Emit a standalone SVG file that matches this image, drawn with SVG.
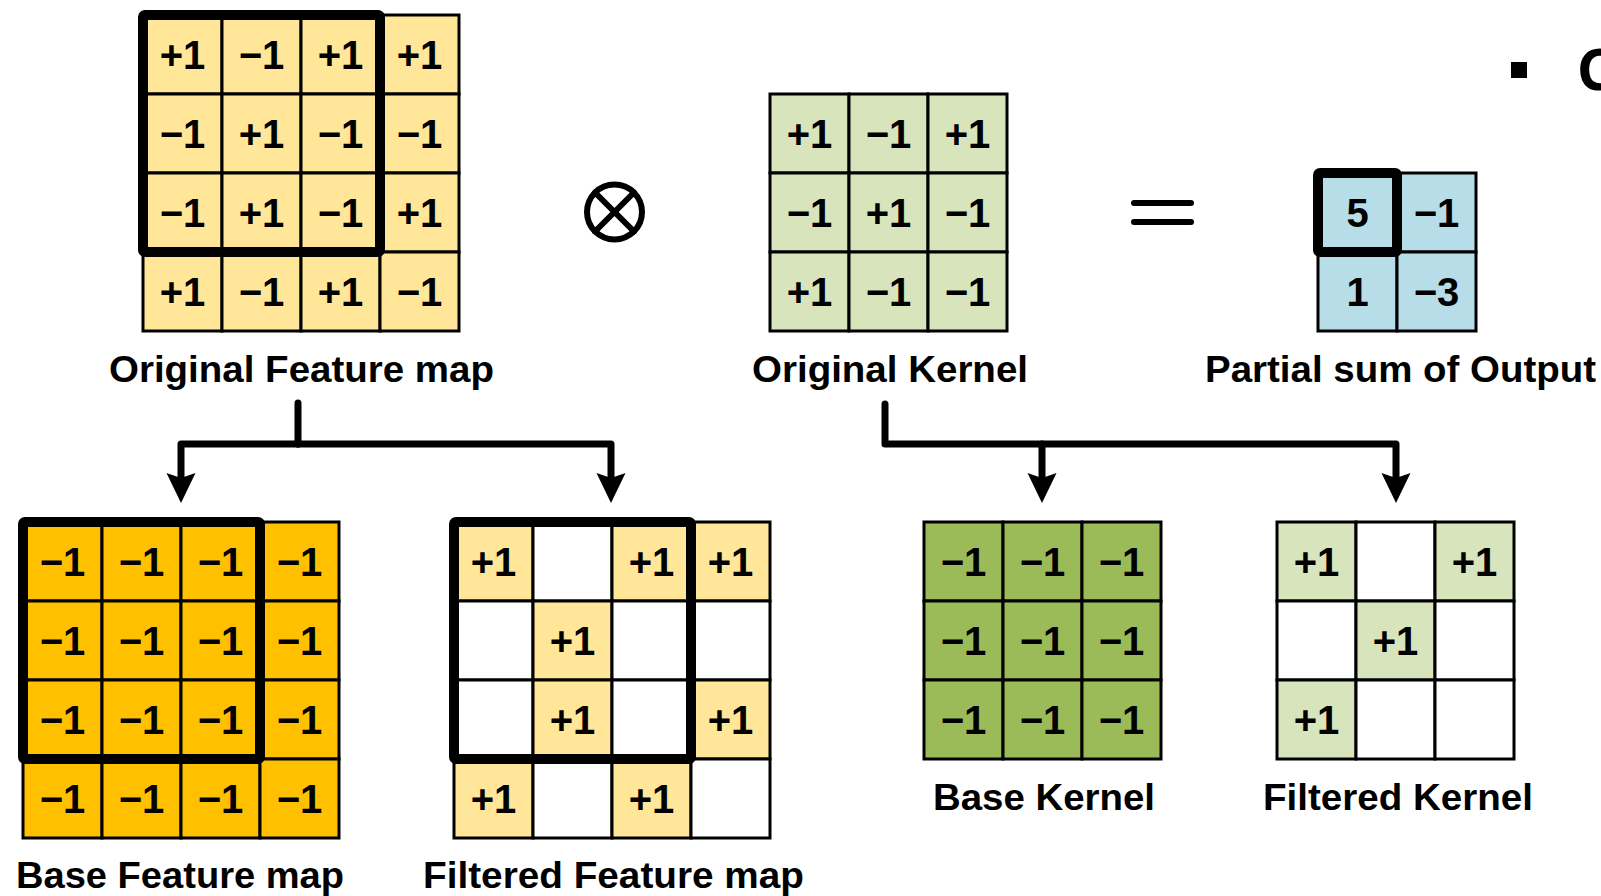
<svg xmlns="http://www.w3.org/2000/svg" xmlns:xlink="http://www.w3.org/1999/xlink" width="1601" height="896" viewBox="0 0 1601 896">
  <defs>
    <style>
      .cell { stroke: #000; stroke-width: 3; }
      .fy { fill: #FFE699; }
      .fo { fill: #FFC000; }
      .fg { fill: #D8E4BC; }
      .fk { fill: #9BBB59; }
      .fb { fill: #B7DEE8; }
      .fw { fill: #FFFFFF; }
      .thick { fill: none; stroke: #000; stroke-width: 10; stroke-linejoin: round; }
      .num { font-family: "Liberation Sans", Arial, sans-serif; font-weight: bold; font-size: 40px; text-anchor: middle; fill: #000; }
      .label { font-family: "Liberation Sans", Arial, sans-serif; font-weight: bold; font-size: 37px; fill: #000; }
      .wire { fill: none; stroke: #000; stroke-width: 7; stroke-linecap: round; stroke-linejoin: round; }
      .op { fill: none; stroke: #000; stroke-width: 6; stroke-linecap: round; }
    </style>
    <rect id="cell" width="79" height="79"/>
    <marker id="head" markerUnits="userSpaceOnUse" markerWidth="30" markerHeight="30" viewBox="0 -15 30 30" refX="5" refY="0" orient="auto" overflow="visible">
      <path d="M0,-14.5 L30,0 L0,14.5 L5,0 Z" fill="#000" stroke="none"/>
    </marker>
  </defs>

  <rect x="0" y="0" width="1601" height="896" fill="#FFFFFF"/>

  <!-- Original feature map (4x4) -->
  <g id="original-feature-map">
    <g class="cell fy">
      <use xlink:href="#cell" x="143" y="15"/><use xlink:href="#cell" x="222" y="15"/><use xlink:href="#cell" x="301" y="15"/><use xlink:href="#cell" x="380" y="15"/>
      <use xlink:href="#cell" x="143" y="94"/><use xlink:href="#cell" x="222" y="94"/><use xlink:href="#cell" x="301" y="94"/><use xlink:href="#cell" x="380" y="94"/>
      <use xlink:href="#cell" x="143" y="173"/><use xlink:href="#cell" x="222" y="173"/><use xlink:href="#cell" x="301" y="173"/><use xlink:href="#cell" x="380" y="173"/>
      <use xlink:href="#cell" x="143" y="252"/><use xlink:href="#cell" x="222" y="252"/><use xlink:href="#cell" x="301" y="252"/><use xlink:href="#cell" x="380" y="252"/>
    </g>
    <g class="num">
      <text x="182.5" y="69">+1</text><text x="261.5" y="69">−1</text><text x="340.5" y="69">+1</text><text x="419.5" y="69">+1</text>
      <text x="182.5" y="148">−1</text><text x="261.5" y="148">+1</text><text x="340.5" y="148">−1</text><text x="419.5" y="148">−1</text>
      <text x="182.5" y="227">−1</text><text x="261.5" y="227">+1</text><text x="340.5" y="227">−1</text><text x="419.5" y="227">+1</text>
      <text x="182.5" y="306">+1</text><text x="261.5" y="306">−1</text><text x="340.5" y="306">+1</text><text x="419.5" y="306">−1</text>
    </g>
    <rect class="thick" x="143" y="15" width="237" height="237" rx="2"/>
    <text class="label" x="109" y="382" textLength="385" lengthAdjust="spacingAndGlyphs">Original Feature map</text>
  </g>

  <!-- Convolution operator -->
  <g id="conv-operator">
    <circle class="op" cx="614.5" cy="212" r="27.5"/>
    <line class="op" x1="595" y1="192.5" x2="634" y2="231.5" stroke-linecap="butt"/>
    <line class="op" x1="634" y1="192.5" x2="595" y2="231.5" stroke-linecap="butt"/>
  </g>

  <!-- Original kernel (3x3) -->
  <g id="original-kernel">
    <g class="cell fg">
      <use xlink:href="#cell" x="770" y="94"/><use xlink:href="#cell" x="849" y="94"/><use xlink:href="#cell" x="928" y="94"/>
      <use xlink:href="#cell" x="770" y="173"/><use xlink:href="#cell" x="849" y="173"/><use xlink:href="#cell" x="928" y="173"/>
      <use xlink:href="#cell" x="770" y="252"/><use xlink:href="#cell" x="849" y="252"/><use xlink:href="#cell" x="928" y="252"/>
    </g>
    <g class="num">
      <text x="809.5" y="148">+1</text><text x="888.5" y="148">−1</text><text x="967.5" y="148">+1</text>
      <text x="809.5" y="227">−1</text><text x="888.5" y="227">+1</text><text x="967.5" y="227">−1</text>
      <text x="809.5" y="306">+1</text><text x="888.5" y="306">−1</text><text x="967.5" y="306">−1</text>
    </g>
    <text class="label" x="752" y="382" textLength="276" lengthAdjust="spacingAndGlyphs">Original Kernel</text>
  </g>

  <!-- Equals operator -->
  <g id="equals-operator">
    <line class="op" x1="1134" y1="203" x2="1191" y2="203"/>
    <line class="op" x1="1134" y1="222" x2="1191" y2="222"/>
  </g>

  <!-- Partial sum of output (2x2) -->
  <g id="partial-sum">
    <g class="cell fb">
      <use xlink:href="#cell" x="1318" y="173"/><use xlink:href="#cell" x="1397" y="173"/>
      <use xlink:href="#cell" x="1318" y="252"/><use xlink:href="#cell" x="1397" y="252"/>
    </g>
    <g class="num">
      <text x="1357.5" y="227">5</text><text x="1436.5" y="227">−1</text>
      <text x="1357.5" y="306">1</text><text x="1436.5" y="306">−3</text>
    </g>
    <rect class="thick" x="1318" y="173" width="79" height="79" rx="2"/>
    <text class="label" x="1205" y="382" textLength="391" lengthAdjust="spacingAndGlyphs">Partial sum of Output</text>
  </g>

  <!-- Bullet heading at top right -->
  <g id="bullet">
    <rect x="1511" y="62" width="16" height="16" fill="#000"/>
    <text x="1577" y="90" font-family="'Noto Sans', 'Open Sans', sans-serif" font-weight="bold" font-size="57" fill="#000">C</text>
  </g>

  <!-- Split connectors -->
  <g id="connectors">
    <path class="wire" d="M298,403 V444"/>
    <path class="wire" d="M298,444 H181 V478" marker-end="url(#head)"/>
    <path class="wire" d="M298,444 H611 V478" marker-end="url(#head)"/>
    <path class="wire" d="M885,404 V444 H1396 V478" marker-end="url(#head)"/>
    <path class="wire" d="M1042,444 V478" marker-end="url(#head)"/>
  </g>

  <!-- Base feature map (4x4) -->
  <g id="base-feature-map">
    <g class="cell fo">
      <use xlink:href="#cell" x="23" y="522"/><use xlink:href="#cell" x="102" y="522"/><use xlink:href="#cell" x="181" y="522"/><use xlink:href="#cell" x="260" y="522"/>
      <use xlink:href="#cell" x="23" y="601"/><use xlink:href="#cell" x="102" y="601"/><use xlink:href="#cell" x="181" y="601"/><use xlink:href="#cell" x="260" y="601"/>
      <use xlink:href="#cell" x="23" y="680"/><use xlink:href="#cell" x="102" y="680"/><use xlink:href="#cell" x="181" y="680"/><use xlink:href="#cell" x="260" y="680"/>
      <use xlink:href="#cell" x="23" y="759"/><use xlink:href="#cell" x="102" y="759"/><use xlink:href="#cell" x="181" y="759"/><use xlink:href="#cell" x="260" y="759"/>
    </g>
    <g class="num">
      <text x="62.5" y="576">−1</text><text x="141.5" y="576">−1</text><text x="220.5" y="576">−1</text><text x="299.5" y="576">−1</text>
      <text x="62.5" y="655">−1</text><text x="141.5" y="655">−1</text><text x="220.5" y="655">−1</text><text x="299.5" y="655">−1</text>
      <text x="62.5" y="734">−1</text><text x="141.5" y="734">−1</text><text x="220.5" y="734">−1</text><text x="299.5" y="734">−1</text>
      <text x="62.5" y="813">−1</text><text x="141.5" y="813">−1</text><text x="220.5" y="813">−1</text><text x="299.5" y="813">−1</text>
    </g>
    <rect class="thick" x="23" y="522" width="237" height="237" rx="2"/>
    <text class="label" x="16" y="888" textLength="328" lengthAdjust="spacingAndGlyphs">Base Feature map</text>
  </g>

  <!-- Filtered feature map (4x4) -->
  <g id="filtered-feature-map">
    <g class="cell">
      <use xlink:href="#cell" class="fy" x="454" y="522"/><use xlink:href="#cell" class="fw" x="533" y="522"/><use xlink:href="#cell" class="fy" x="612" y="522"/><use xlink:href="#cell" class="fy" x="691" y="522"/>
      <use xlink:href="#cell" class="fw" x="454" y="601"/><use xlink:href="#cell" class="fy" x="533" y="601"/><use xlink:href="#cell" class="fw" x="612" y="601"/><use xlink:href="#cell" class="fw" x="691" y="601"/>
      <use xlink:href="#cell" class="fw" x="454" y="680"/><use xlink:href="#cell" class="fy" x="533" y="680"/><use xlink:href="#cell" class="fw" x="612" y="680"/><use xlink:href="#cell" class="fy" x="691" y="680"/>
      <use xlink:href="#cell" class="fy" x="454" y="759"/><use xlink:href="#cell" class="fw" x="533" y="759"/><use xlink:href="#cell" class="fy" x="612" y="759"/><use xlink:href="#cell" class="fw" x="691" y="759"/>
    </g>
    <g class="num">
      <text x="493.5" y="576">+1</text><text x="651.5" y="576">+1</text><text x="730.5" y="576">+1</text>
      <text x="572.5" y="655">+1</text>
      <text x="572.5" y="734">+1</text><text x="730.5" y="734">+1</text>
      <text x="493.5" y="813">+1</text><text x="651.5" y="813">+1</text>
    </g>
    <rect class="thick" x="454" y="522" width="237" height="237" rx="2"/>
    <text class="label" x="423" y="888" textLength="381" lengthAdjust="spacingAndGlyphs">Filtered Feature map</text>
  </g>

  <!-- Base kernel (3x3) -->
  <g id="base-kernel">
    <g class="cell fk">
      <use xlink:href="#cell" x="924" y="522"/><use xlink:href="#cell" x="1003" y="522"/><use xlink:href="#cell" x="1082" y="522"/>
      <use xlink:href="#cell" x="924" y="601"/><use xlink:href="#cell" x="1003" y="601"/><use xlink:href="#cell" x="1082" y="601"/>
      <use xlink:href="#cell" x="924" y="680"/><use xlink:href="#cell" x="1003" y="680"/><use xlink:href="#cell" x="1082" y="680"/>
    </g>
    <g class="num">
      <text x="963.5" y="576">−1</text><text x="1042.5" y="576">−1</text><text x="1121.5" y="576">−1</text>
      <text x="963.5" y="655">−1</text><text x="1042.5" y="655">−1</text><text x="1121.5" y="655">−1</text>
      <text x="963.5" y="734">−1</text><text x="1042.5" y="734">−1</text><text x="1121.5" y="734">−1</text>
    </g>
    <text class="label" x="933" y="810" textLength="222" lengthAdjust="spacingAndGlyphs">Base Kernel</text>
  </g>

  <!-- Filtered kernel (3x3) -->
  <g id="filtered-kernel">
    <g class="cell">
      <use xlink:href="#cell" class="fg" x="1277" y="522"/><use xlink:href="#cell" class="fw" x="1356" y="522"/><use xlink:href="#cell" class="fg" x="1435" y="522"/>
      <use xlink:href="#cell" class="fw" x="1277" y="601"/><use xlink:href="#cell" class="fg" x="1356" y="601"/><use xlink:href="#cell" class="fw" x="1435" y="601"/>
      <use xlink:href="#cell" class="fg" x="1277" y="680"/><use xlink:href="#cell" class="fw" x="1356" y="680"/><use xlink:href="#cell" class="fw" x="1435" y="680"/>
    </g>
    <g class="num">
      <text x="1316.5" y="576">+1</text><text x="1474.5" y="576">+1</text>
      <text x="1395.5" y="655">+1</text>
      <text x="1316.5" y="734">+1</text>
    </g>
    <text class="label" x="1263" y="810" textLength="270" lengthAdjust="spacingAndGlyphs">Filtered Kernel</text>
  </g>
</svg>
